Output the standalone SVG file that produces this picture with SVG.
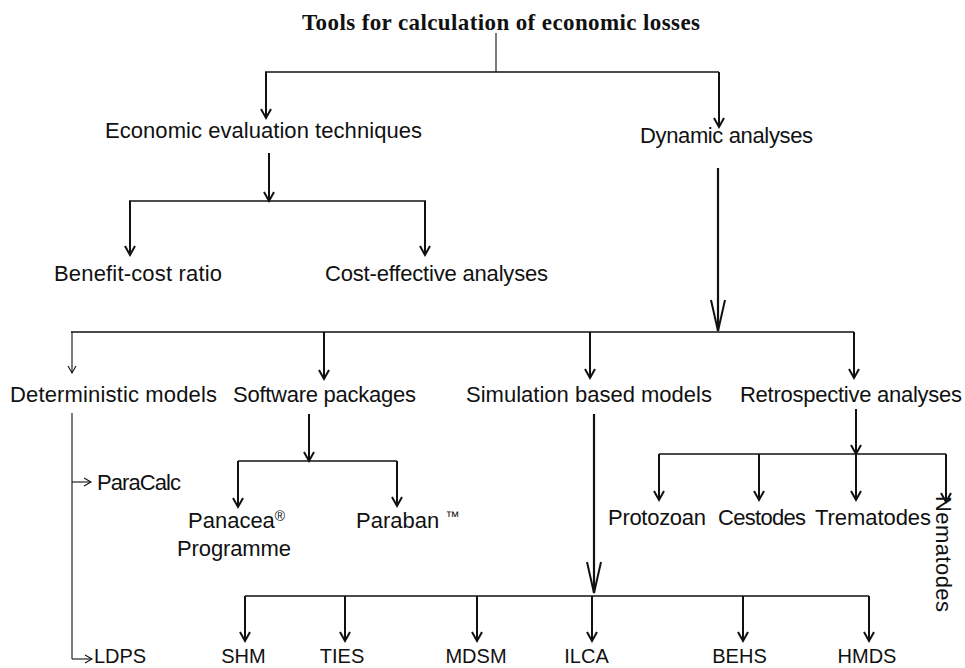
<svg xmlns="http://www.w3.org/2000/svg" width="965" height="668" viewBox="0 0 965 668">
<style>
  .t { font-family: "Liberation Sans", Arial, sans-serif; font-size: 22px; fill: #111; }
  .s { font-family: "Liberation Sans", Arial, sans-serif; font-size: 20px; fill: #111; text-anchor: middle; }
  .title { font-family: "Liberation Serif", "Times New Roman", serif; font-size: 23px; font-weight: bold; fill: #111; }
  .ln { fill: none; stroke: #111; stroke-width: 1.5; }
  .ar { fill: none; stroke: #111; stroke-width: 2; marker-end: url(#ah); }
  .big { fill: none; stroke: #111; stroke-width: 2.2; marker-end: url(#big); }
  .thin { fill: none; stroke: #111; stroke-width: 1.1; }
  .thinar { fill: none; stroke: #111; stroke-width: 1.1; marker-end: url(#sm); }
</style>
<defs>
  <marker id="ah" markerUnits="userSpaceOnUse" markerWidth="14" markerHeight="14" viewBox="0 0 14 14" refX="11" refY="7" orient="auto" overflow="visible">
    <path d="M2,2 L11,7 L2,12" fill="none" stroke="#111" stroke-width="2"/>
  </marker>
  <marker id="big" markerUnits="userSpaceOnUse" markerWidth="36" markerHeight="18" viewBox="0 0 36 18" refX="33" refY="9" orient="auto" overflow="visible">
    <path d="M2,2 L33,9 L2,16" fill="none" stroke="#111" stroke-width="2"/>
  </marker>
  <marker id="sm" markerUnits="userSpaceOnUse" markerWidth="12" markerHeight="12" viewBox="0 0 12 12" refX="9" refY="6" orient="auto" overflow="visible">
    <path d="M2,2 L9,6 L2,10" fill="none" stroke="#111" stroke-width="1.1"/>
  </marker>
</defs>

<g id="connectors">
  <path class="thin" d="M496,33 V72"/>
  <path class="ln" d="M265,72 H719"/>
  <path class="ar" d="M266,72 V118"/>
  <path class="ar" d="M719,72 V127"/>
  <path class="ar" d="M269,153 V201"/>
  <path class="ln" d="M129,201 H426"/>
  <path class="ar" d="M130,201 V255"/>
  <path class="ar" d="M425,201 V255"/>
  <path class="big" d="M718,168 V331"/>
  <path class="ln" d="M71,332 H854"/>
  <path class="thinar" d="M72,332 V373"/>
  <path class="ar" d="M324,332 V379"/>
  <path class="ar" d="M590,332 V378"/>
  <path class="ar" d="M854,332 V378"/>
  <path class="thin" d="M72,413 V659"/>
  <path class="thinar" d="M72,482 H91"/>
  <path class="thinar" d="M72,659 H92"/>
  <path class="ar" d="M309,414 V461"/>
  <path class="ln" d="M238,461 H397"/>
  <path class="ar" d="M238,461 V507"/>
  <path class="ar" d="M397,461 V506"/>
  <path class="big" d="M594,414 V593"/>
  <path class="ln" d="M245,596 H869"/>
  <path class="ar" d="M245,596 V641"/>
  <path class="ar" d="M345,596 V641"/>
  <path class="ar" d="M477,596 V641"/>
  <path class="ar" d="M592,596 V641"/>
  <path class="ar" d="M743,596 V641"/>
  <path class="ar" d="M869,596 V641"/>
  <path class="ar" d="M856,409 V454"/>
  <path class="ln" d="M659,454 H946"/>
  <path class="ar" d="M659,454 V500"/>
  <path class="ar" d="M759,454 V500"/>
  <path class="ar" d="M856,454 V500"/>
  <path class="ar" d="M946,454 V502"/>
</g>

<g id="n-title"><text class="title" x="302" y="30" textLength="398">Tools for calculation of economic losses</text></g>
<g id="n-econ"><text class="t" x="105" y="138" textLength="317">Economic evaluation techniques</text></g>
<g id="n-dyn"><text class="t" x="640" y="143" textLength="173">Dynamic analyses</text></g>
<g id="n-bcr"><text class="t" x="54" y="281" textLength="168">Benefit-cost ratio</text></g>
<g id="n-cea"><text class="t" x="325" y="281" textLength="223">Cost-effective analyses</text></g>
<g id="n-det"><text class="t" x="10" y="402" textLength="207">Deterministic models</text></g>
<g id="n-soft"><text class="t" x="233" y="402" textLength="183">Software packages</text></g>
<g id="n-sim"><text class="t" x="466" y="402" textLength="246">Simulation based models</text></g>
<g id="n-retro"><text class="t" x="740" y="402" textLength="222">Retrospective analyses</text></g>
<g id="n-paracalc"><text class="t" x="97" y="490" textLength="84">ParaCalc</text></g>
<g id="n-ldps"><text class="s" x="120" y="663">LDPS</text></g>
<g id="n-panacea"><text class="t" x="188" y="528">Panacea<tspan font-size="14" dy="-7">®</tspan></text><text class="t" x="177" y="556" textLength="114">Programme</text></g>
<g id="n-paraban"><text class="t" x="356" y="528">Paraban <tspan font-size="14" dy="-7">™</tspan></text></g>
<g id="n-proto"><text class="t" x="608" y="525" textLength="98">Protozoan</text></g>
<g id="n-cest"><text class="t" x="718" y="525" textLength="88">Cestodes</text></g>
<g id="n-trem"><text class="t" x="815" y="525" textLength="116">Trematodes</text></g>
<g id="n-nema"><text class="t" transform="translate(936,496) rotate(90)" x="0" y="0" textLength="116">Nematodes</text></g>
<g id="n-shm"><text class="s" x="243.5" y="663">SHM</text></g>
<g id="n-ties"><text class="s" x="342" y="663">TIES</text></g>
<g id="n-mdsm"><text class="s" x="476" y="663">MDSM</text></g>
<g id="n-ilca"><text class="s" x="586.5" y="663">ILCA</text></g>
<g id="n-behs"><text class="s" x="739.5" y="663">BEHS</text></g>
<g id="n-hmds"><text class="s" x="867" y="663">HMDS</text></g>
</svg>
